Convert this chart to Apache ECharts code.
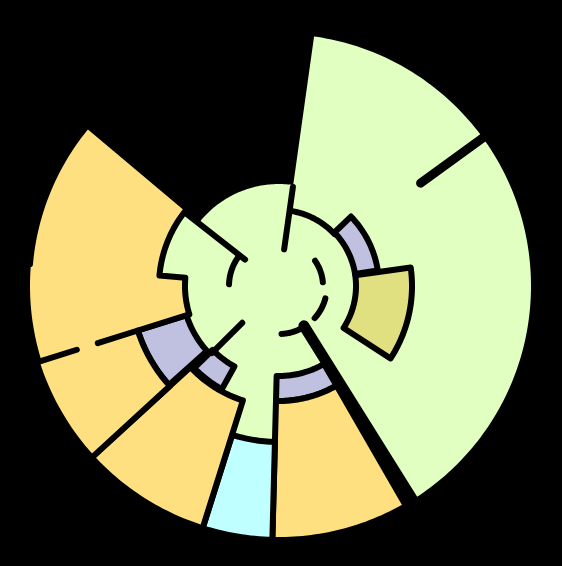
<!DOCTYPE html>
<html><head><meta charset="utf-8">
<style>html,body{margin:0;padding:0;background:#000;}#chart{width:562px;height:566px;}</style>
<script src="https://cdn.jsdelivr.net/npm/echarts@6/dist/echarts.min.js"></script>
</head><body><div id="chart"></div>
<script>
// ---- DATA (angles in degrees clockwise from north, radius in axis units) ----
// Each region (piece) has a category; a piece may consist of several angular segments.
const pieceCategory = ['base', 'B', 'E', 'B', 'C', 'D', 'C', 'B', 'B', 'C'];
const segPiece = [0, 0, 0, 0, 0, 0, 0, 0, 0, 1, 2, 3, 4, 5, 6, 7, 8, 9, 9, 9];
const segStart = [8, 147, 182, 197.5, 209, 228, 252.5, 275, 308, 46, 82, 150, 150, 181.5, 197.5, 209, 228, 227.5, 252.5, 275];
const segEnd   = [147, 182, 197.5, 209, 228, 252.5, 275, 308, 368, 81, 123, 181.5, 181.5, 197.5, 227.5, 226, 252.5, 252.5, 275, 310];
const segInner = [0, 0, 0, 0, 0, 0, 0, 0, 0, 77, 77, 90, 115, 156, 120, 92, 97, 148, 94, 120];
const segOuter = [252, 90, 156, 120, 92, 97, 94, 120, 102, 100, 133, 115, 254, 254, 254, 118, 148, 254, 252, 250];

// radial divider lines
const dividerAngle = [8, 54, 148, 252.5, 252.5, 308, 225];
const dividerFrom  = [37, 175, 47, 148, 212, 43, 52];
const dividerTo    = [100, 252, 252, 190, 254, 118, 95];
// arc divider lines
const arcRadius = [76, 44, 48, 48, 50];
const arcFrom   = [9, 55, 105, 150, 272];
const arcTo     = [47, 85, 132, 177, 306];

// ---- STYLE ----
const categoryColor = { base: '#E0FFC0', B: '#C0C0E0', C: '#FFE080', D: '#C0FFFF', E: '#E0E080' };
const dividerWidth = [6, 9, 11, 6, 6, 6, 6];
const arcWidth = [6, 6, 6, 6, 6];

function sampleArc(api, r, a0, a1) {
  const pts = [];
  const n = Math.max(2, Math.ceil(Math.abs(a1 - a0)));
  for (let i = 0; i <= n; i++) {
    const a = a0 + (a1 - a0) * i / n;
    pts.push(api.coord([r, ((a % 360) + 360) % 360]));
  }
  return pts;
}

function renderPiece(params, api) {
  const p = params.dataIndex;
  const segs = [];
  for (let i = 0; i < segPiece.length; i++) if (segPiece[i] === p) segs.push(i);
  let pts = [];
  segs.forEach(i => { pts = pts.concat(sampleArc(api, segOuter[i], segStart[i], segEnd[i])); });
  segs.slice().reverse().forEach(i => { pts = pts.concat(sampleArc(api, segInner[i], segEnd[i], segStart[i])); });
  const cat = pieceCategory[p];
  const style = { fill: categoryColor[cat], lineJoin: 'round' };
  if (cat !== 'base') { style.stroke = '#000'; style.lineWidth = 6; }
  else { style.stroke = null; style.lineWidth = 0; }
  return { type: 'polygon', shape: { points: pts }, style: style };
}

function renderDivider(params, api) {
  const i = params.dataIndex;
  return {
    type: 'polyline',
    shape: { points: [api.coord([dividerFrom[i], dividerAngle[i]]), api.coord([dividerTo[i], dividerAngle[i]])] },
    style: { stroke: '#000', lineWidth: dividerWidth[i], lineCap: 'round', fill: null }
  };
}

function renderArc(params, api) {
  const i = params.dataIndex;
  return {
    type: 'polyline',
    shape: { points: sampleArc(api, arcRadius[i], arcFrom[i], arcTo[i]) },
    style: { stroke: '#000', lineWidth: arcWidth[i], lineCap: 'round', lineJoin: 'round', fill: null }
  };
}

const chart = echarts.init(document.getElementById('chart'), null, { renderer: 'canvas' });
chart.setOption({
  backgroundColor: '#000',
  animation: false,
  polar: { center: [279, 286], radius: 254 },
  angleAxis: { type: 'value', min: 0, max: 360, startAngle: 90, clockwise: true, show: false },
  radiusAxis: { type: 'value', min: 0, max: 254, show: false },
  series: [
    {
      type: 'custom', coordinateSystem: 'polar', silent: true, z: 1,
      renderItem: renderPiece,
      data: pieceCategory.map((c, i) => [segOuter[segPiece.indexOf(i)], segStart[segPiece.indexOf(i)]])
    },
    {
      type: 'custom', coordinateSystem: 'polar', silent: true, z: 3,
      renderItem: renderDivider,
      data: dividerAngle.map((a, i) => [dividerTo[i], a])
    },
    {
      type: 'custom', coordinateSystem: 'polar', silent: true, z: 3,
      renderItem: renderArc,
      data: arcRadius.map((r, i) => [r, arcFrom[i]])
    }
  ]
});
</script>
</body></html>
